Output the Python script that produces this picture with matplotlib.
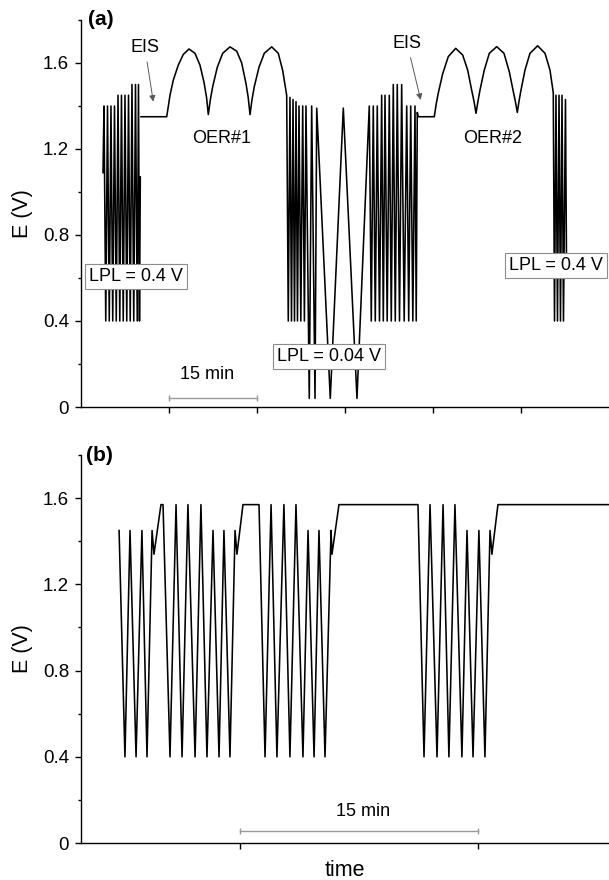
import matplotlib
matplotlib.use('Agg')
import matplotlib.pyplot as plt
from matplotlib.ticker import MultipleLocator

plt.rcParams['font.family'] = ['Liberation Sans', 'DejaVu Sans']

# ---------------- panel (a): time in min, E in V ----------------
cv1_t = [3.75, 3.92, 4.22, 4.52, 4.82, 5.11, 5.41, 5.71, 6.01, 6.31, 6.61, 6.90,
         7.20, 7.50, 7.80, 8.10, 8.39, 8.69, 8.99, 9.29, 9.59, 9.80, 9.97, 10.11]
cv1_E = [1.09, 1.40, 0.40, 1.40, 0.40, 1.40, 0.40, 1.40, 0.40, 1.45, 0.40, 1.45,
         0.40, 1.45, 0.40, 1.45, 0.40, 1.50, 0.40, 1.50, 0.40, 1.50, 0.40, 1.07]

eis1_t = [10.23, 14.61]
eis1_E = [1.35, 1.35]

oer1_t = [14.61, 14.95, 15.17, 15.73, 16.58, 17.44, 18.41, 19.43, 20.28, 20.97, 21.40, 21.70,
          22.05, 22.45, 23.23, 24.15, 25.40, 26.54, 27.39, 28.12, 28.50, 28.81,
          29.15, 29.54, 30.34, 31.24, 32.51, 33.63, 34.38, 35.06]
oer1_E = [1.35, 1.41, 1.45, 1.52, 1.59, 1.64, 1.665, 1.645, 1.59, 1.51, 1.44, 1.36,
          1.43, 1.49, 1.58, 1.645, 1.675, 1.655, 1.60, 1.505, 1.44, 1.36,
          1.43, 1.49, 1.58, 1.645, 1.675, 1.645, 1.565, 1.45]

cv2_t = [35.33, 35.62, 35.88, 36.14, 36.39, 36.65, 36.90, 37.16, 37.47, 37.79,
         38.08, 38.35, 38.91, 39.32, 39.89, 40.18, 42.49, 44.71, 47.04, 49.14,
         49.48, 49.82, 50.16, 50.50, 50.88, 51.25, 51.53, 51.82, 52.19, 52.55,
         52.89, 53.23, 53.57, 53.91, 54.29, 54.66, 55.09, 55.52, 55.86, 56.20,
         56.56, 56.93, 57.14, 57.32, 57.49, 60.22]
cv2_E = [0.40, 1.44, 0.40, 1.43, 0.40, 1.42, 0.40, 1.40, 0.40, 1.40,
         0.40, 1.40, 0.04, 1.40, 0.04, 1.39, 0.04, 1.39, 0.04, 1.40,
         0.40, 1.40, 0.40, 1.40, 0.40, 1.45, 0.40, 1.45, 0.40, 1.45,
         0.40, 1.50, 0.40, 1.50, 0.40, 1.50, 0.40, 1.40, 0.40, 1.40,
         0.40, 1.40, 0.40, 1.37, 1.35, 1.35]

oer2_t = [60.22, 60.55, 60.90, 61.65, 62.61, 63.87, 65.06, 65.91, 66.59, 67.00, 67.33,
          67.65, 68.01, 68.74, 69.60, 70.86, 72.10, 73.00, 73.69, 74.05, 74.37,
          74.65, 74.95, 75.68, 76.53, 77.84, 79.09, 79.94, 80.50]
oer2_E = [1.35, 1.41, 1.46, 1.55, 1.63, 1.668, 1.637, 1.567, 1.474, 1.42, 1.366,
          1.42, 1.474, 1.567, 1.645, 1.676, 1.645, 1.56, 1.467, 1.42, 1.37,
          1.42, 1.467, 1.567, 1.645, 1.68, 1.645, 1.567, 1.462]

cv3_t = [80.71, 80.96, 81.22, 81.48, 81.73, 81.99, 82.24, 82.58, 82.76]
cv3_E = [0.40, 1.45, 0.40, 1.45, 0.40, 1.45, 0.40, 1.43, 0.65]

# ---------------- panel (b) ----------------
b_t = [2.40, 2.77, 3.09, 3.47, 3.84, 4.16, 4.48, 4.60, 5.04, 5.17,
       5.61, 5.99, 6.37, 6.74, 7.19, 7.56, 7.94, 8.32, 8.70, 9.01,
       9.39, 9.71, 9.83, 10.21, 11.22, 11.60, 11.98, 12.35, 12.79, 13.17,
       13.55, 13.99, 14.31, 14.69, 15.00, 15.38, 15.76, 15.82, 16.26, 21.24,
       21.62, 22.00, 22.44, 22.82, 23.19, 23.57, 24.01, 24.33, 24.71, 25.08,
       25.46, 25.78, 25.90, 26.28, 33.28]
b_E = [1.45, 0.40, 1.45, 0.40, 1.45, 0.40, 1.45, 1.34, 1.57, 1.57,
       0.40, 1.57, 0.40, 1.57, 0.40, 1.57, 0.40, 1.45, 0.40, 1.45,
       0.40, 1.45, 1.34, 1.57, 1.57, 0.40, 1.57, 0.40, 1.57, 0.40,
       1.57, 0.40, 1.45, 0.40, 1.45, 0.40, 1.45, 1.34, 1.57, 1.57,
       0.40, 1.57, 0.40, 1.57, 0.40, 1.57, 0.40, 1.45, 0.40, 1.45,
       0.40, 1.45, 1.34, 1.57, 1.57]

y_ticks = [0, 0.4, 0.8, 1.2, 1.6]
y_tick_labels = ['0', '0.4', '0.8', '1.2', '1.6']
a_xticks = [15, 30, 45, 60, 75]
b_xticks = [10, 25]
a_bar = [15, 30]
b_bar = [10, 25]

LW = 1.15
GREY = '0.6'
FS = 13

fig = plt.figure(figsize=(6.09, 8.8), dpi=100)
ax_a = fig.add_axes([0.133, 0.5375, 0.867, 0.4398])
ax_b = fig.add_axes([0.133, 0.042, 0.867, 0.4409])


def style_axis(ax, xmax, xticks):
    ax.set_xlim(0, xmax)
    ax.set_ylim(0, 1.8)
    ax.set_yticks(y_ticks)
    ax.set_yticklabels(y_tick_labels)
    ax.yaxis.set_minor_locator(MultipleLocator(0.2))
    ax.set_xticks(xticks)
    ax.set_xticklabels([])
    for s in ['top', 'right']:
        ax.spines[s].set_visible(False)
    for s in ['left', 'bottom']:
        ax.spines[s].set_linewidth(1.0)
    ax.tick_params(which='major', direction='out', length=4.5, width=1.0,
                   labelsize=13.5, pad=4)
    ax.tick_params(which='minor', direction='out', length=2.5, width=1.0)
    ax.set_ylabel('E (V)', fontsize=15.5)
    ax.yaxis.set_label_coords(-0.09, 0.5)


# (a)
style_axis(ax_a, 90, a_xticks)
ax_a.plot(cv1_t, cv1_E, color='black', lw=LW)
main_t = eis1_t + oer1_t + cv2_t + oer2_t + cv3_t
main_E = eis1_E + oer1_E + cv2_E + oer2_E + cv3_E
ax_a.plot(main_t, main_E, color='black', lw=LW)

ax_a.text(0.013, 1.0, '(a)', transform=ax_a.transAxes, fontsize=15,
          fontweight='bold', ha='left', va='center')

arrow = dict(arrowstyle='-|>', color='0.35', lw=0.7, mutation_scale=9,
             shrinkA=2, shrinkB=0)
ax_a.annotate('EIS', xy=(12.32, 1.42), xytext=(10.9, 1.67), fontsize=FS,
              ha='center', va='center', arrowprops=arrow)
ax_a.annotate('EIS', xy=(57.9, 1.428), xytext=(55.6, 1.69), fontsize=FS,
              ha='center', va='center', arrowprops=arrow)
ax_a.text(23.98, 1.25, 'OER#1', fontsize=FS, ha='center', va='center')
ax_a.text(70.17, 1.25, 'OER#2', fontsize=FS, ha='center', va='center')

box = dict(boxstyle='square,pad=0.22', facecolor='white', edgecolor='0.55',
           linewidth=0.8)
ax_a.text(9.4, 0.609, 'LPL = 0.4 V', fontsize=FS, ha='center', va='center',
          bbox=box)
ax_a.text(42.2, 0.235, 'LPL = 0.04 V', fontsize=FS, ha='center',
          va='center', bbox=box)
ax_a.text(81.0, 0.656, 'LPL = 0.4 V', fontsize=FS, ha='center',
          va='center', bbox=box)

ax_a.plot(a_bar, [0.04, 0.04], color=GREY, lw=1.0, marker='|', ms=4,
          mew=1.0)
ax_a.text(21.5, 0.15, '15 min', fontsize=FS, ha='center', va='center')

# (b)
style_axis(ax_b, 33.28, b_xticks)
ax_b.plot(b_t, b_E, color='black', lw=LW)
ax_b.text(0.01, 1.0, '(b)', transform=ax_b.transAxes, fontsize=15,
          fontweight='bold', ha='left', va='center')
ax_b.plot(b_bar, [0.057, 0.057], color=GREY, lw=1.0, marker='|', ms=4,
          mew=1.0)
ax_b.text(17.8, 0.145, '15 min', fontsize=FS, ha='center', va='center')
ax_b.set_xlabel('time', fontsize=15.5)
ax_b.xaxis.set_label_coords(0.5, -0.045)

fig.savefig('out.png', dpi=100)
